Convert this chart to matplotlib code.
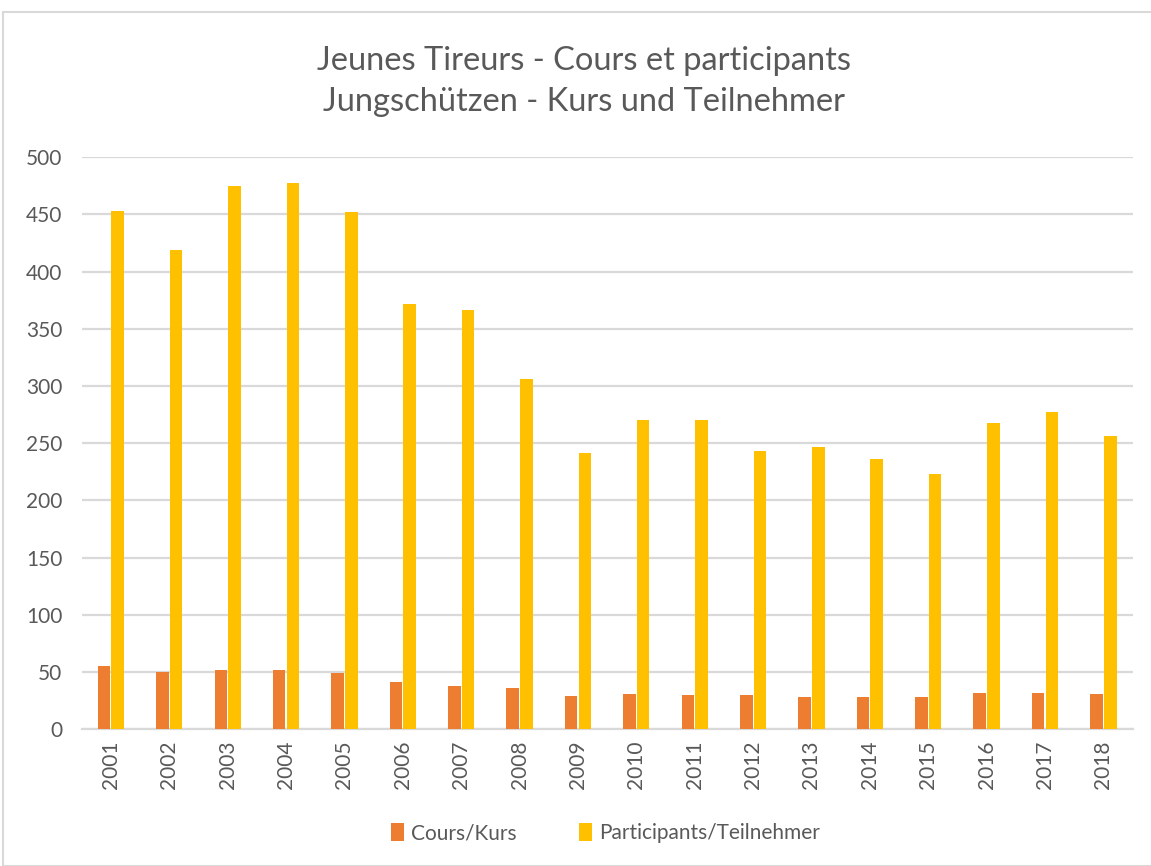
""" Jeunes Tireurs / Jungschuetzen - cours et participants """

import numpy as np
import matplotlib.pyplot as plt
from matplotlib.patches import Rectangle

years = [str(y) for y in range(2001, 2019)]
cours = [55, 50, 52, 52, 49, 41, 38, 36, 29, 31, 30, 30, 28, 28, 28, 32, 32, 31]
participants = [453, 419, 475, 477, 452, 372, 366, 306, 241, 270, 270, 243,
                247, 236, 223, 268, 277, 256]

orange = '#ED7D31'
yellow = '#FFC000'
txt = '#595959'
grid = '#D9D9D9'

plt.rcParams['font.family'] = ['Lato', 'DejaVu Sans']

fig = plt.figure(figsize=(11.51, 8.66), dpi=100)
ax = fig.add_axes([0.071, 0.158, 0.913, 0.6605])

x = np.arange(len(years))
w = 0.215  # bar width in category units
gap = 0.02
ax.bar(x - (w + gap) / 2, cours, w, color=orange, label='Cours/Kurs', zorder=3)
ax.bar(x + (w + gap) / 2, participants, w, color=yellow,
       label='Participants/Teilnehmer', zorder=3)

ax.set_xlim(-0.5, len(years) - 0.5)
ax.set_ylim(0, 500)
ax.set_yticks(range(0, 501, 50))
ax.set_xticks(x)
ax.set_xticklabels(years, rotation=90)
ax.yaxis.grid(True, color=grid, linewidth=1.6, zorder=0)
ax.tick_params(axis='both', length=0, labelsize=15, colors=txt)
ax.tick_params(axis='x', pad=8)
ax.tick_params(axis='y', pad=14)
for s in ['top', 'right', 'left']:
    ax.spines[s].set_visible(False)
ax.spines['bottom'].set_color(grid)
ax.spines['bottom'].set_linewidth(1.6)

fig.text(0.507, 0.906, 'Jeunes Tireurs - Cours et participants\nJungschützen - Kurs und Teilnehmer',
         ha='center', va='center', fontsize=23.5, color=txt, linespacing=1.45)

leg = fig.legend(loc='center', bbox_to_anchor=(0.526, 0.038), ncol=2, frameon=False,
                 fontsize=15, handlelength=0.6, handleheight=0.9,
                 columnspacing=3.0, handletextpad=0.35)
for t in leg.get_texts():
    t.set_color(txt)

# light frame around the chart like the excel export
fig.patches.append(Rectangle((3 / 1151, 0), 1, 1 - 12 / 866, transform=fig.transFigure,
                             fill=False, edgecolor='#D9D9D9', linewidth=1.5))

fig.savefig('out.png', dpi=100)
